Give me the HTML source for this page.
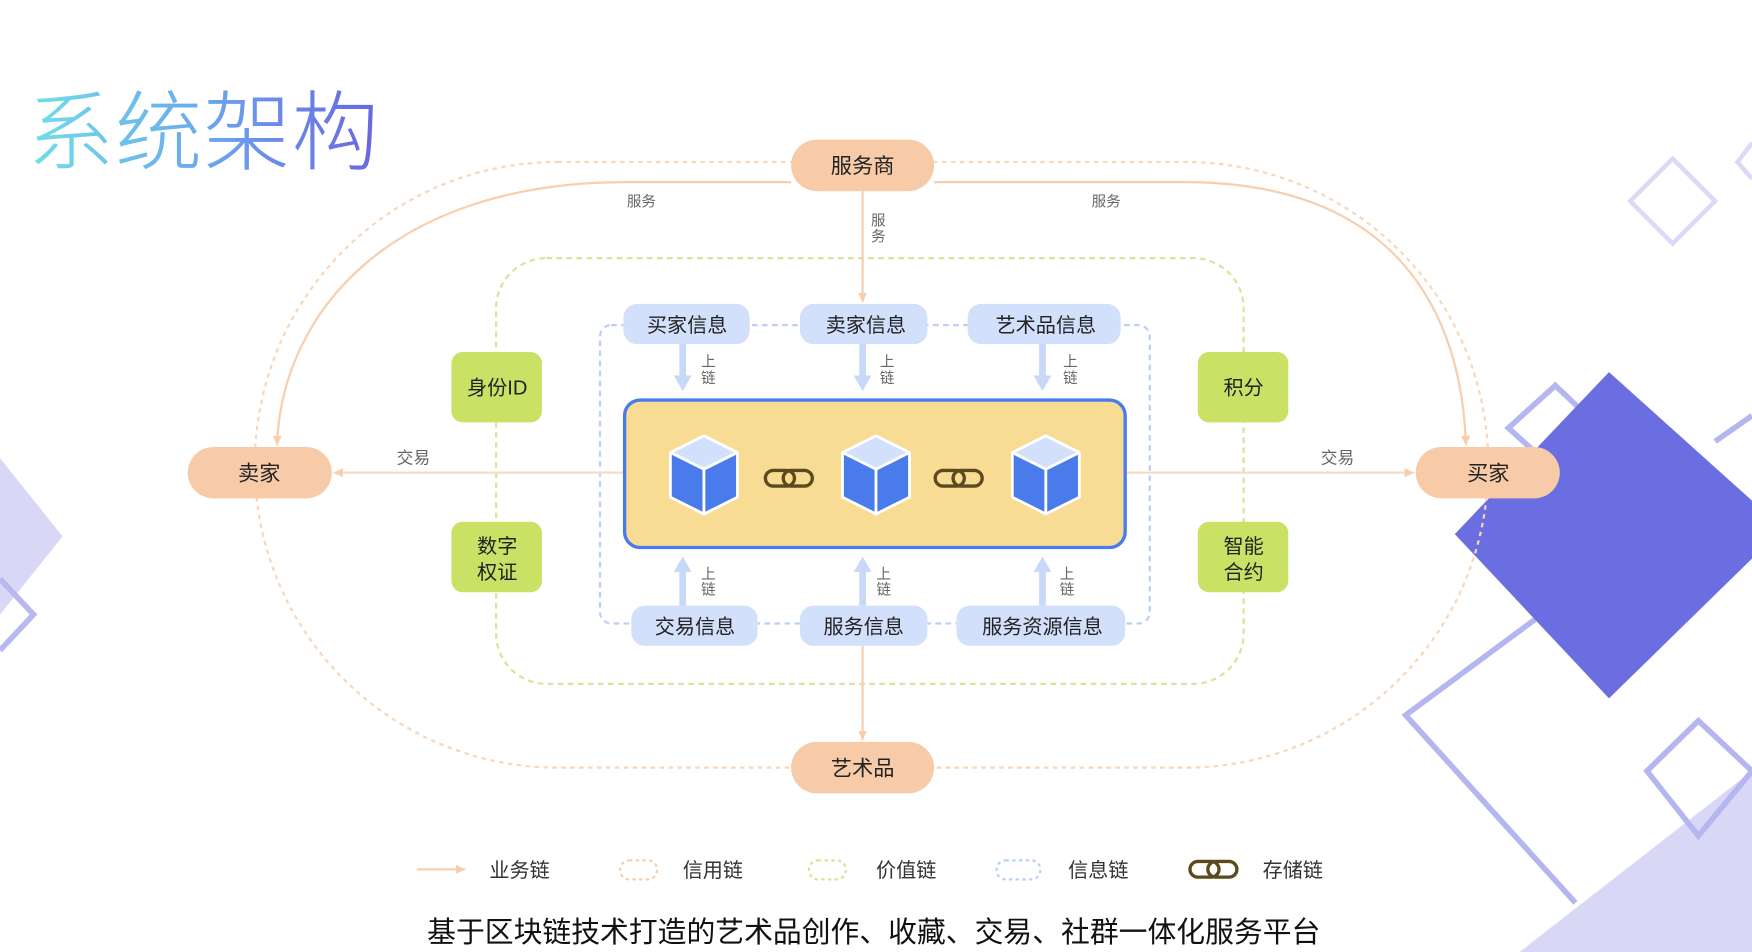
<!DOCTYPE html>
<html><head><meta charset="utf-8"><style>
html,body{margin:0;padding:0;background:#fff;overflow:hidden}
svg{display:block}
text{font-family:"Liberation Sans","Noto Sans CJK SC",sans-serif}
</style></head><body>
<svg width="1752" height="952" viewBox="0 0 1568 852" xmlns="http://www.w3.org/2000/svg">
<defs>
<linearGradient id="tg" x1="0" y1="0" x2="1" y2="0">
<stop offset="0" stop-color="#6fe0e6"/><stop offset="0.5" stop-color="#6aa8ee"/><stop offset="1" stop-color="#6a64e0"/>
</linearGradient>
<marker id="ao" markerWidth="10" markerHeight="10" refX="8" refY="5" orient="auto" markerUnits="userSpaceOnUse"><path d="M0,1 L9,5 L0,9 z" fill="#f8cfae"/></marker>
<marker id="ab" markerWidth="16" markerHeight="16" refX="8" refY="8" orient="auto" markerUnits="userSpaceOnUse"><path d="M0,0 L14,8 L0,16 z" fill="#c8d8f8"/></marker>
<g id="cube">
<polygon points="0,-35 30,-20 0,-5 -30,-20" fill="#d3e0fb" stroke="#fff" stroke-width="2.5" stroke-linejoin="round"/>
<polygon points="-30,-20 0,-5 0,35 -30,20" fill="#4a7beb" stroke="#fff" stroke-width="2.5" stroke-linejoin="round"/>
<polygon points="0,-5 30,-20 30,20 0,35" fill="#4a7beb" stroke="#fff" stroke-width="2.5" stroke-linejoin="round"/>
</g>
<g id="link" fill="none" stroke="#5a4a1e" stroke-width="3">
<rect x="-21" y="-7" width="26" height="14" rx="7"/>
<rect x="-5" y="-7" width="26" height="14" rx="7"/>
</g>
</defs>

<polygon points="0,410 56,480 0,550" fill="#d8d8f6"/>
<polyline points="0,518 30,550 0,582" fill="none" stroke="#b8b8f0" stroke-width="5"/>
<polygon points="1497,142 1535,180 1497,218 1459,180" fill="none" stroke="#dadaf6" stroke-width="4"/>
<polyline points="1568,128 1555,145 1568,160" fill="none" stroke="#dadaf6" stroke-width="4"/>
<polygon points="1392,345 1432,383 1392,421 1350,383" fill="none" stroke="#b4b6ef" stroke-width="5"/>
<polyline points="1400,535 1258,640 1410,808" fill="none" stroke="#b4b6ef" stroke-width="5"/>
<polygon points="1360,852 1568,690 1568,852" fill="#d8d8f6"/>
<polygon points="1520,645 1568,690 1520,748 1474,690" fill="none" stroke="#b4b6ef" stroke-width="5"/>
<polygon points="1440,333 1568,448 1568,500 1440,625 1302,478" fill="#6a6ee0"/>
<polyline points="1535,395 1568,372" fill="none" stroke="#b4b6ef" stroke-width="5"/>

<text x="24" y="146" font-size="78" font-weight="300" fill="url(#tg)" letter-spacing="1">系统架构</text>

<rect x="228" y="145" width="1104" height="542" rx="271" fill="none" stroke="#f8d7ba" stroke-width="2" stroke-dasharray="4,4"/>
<rect x="444" y="231" width="669" height="381" rx="45" fill="none" stroke="#d6e59a" stroke-width="2" stroke-dasharray="5,4"/>
<rect x="537" y="291" width="492" height="267" rx="10" fill="none" stroke="#bcd0f5" stroke-width="2" stroke-dasharray="5,4"/>

<path d="M708,163 L560,163 C350,163 252,280 248,398" fill="none" stroke="#f8cfae" stroke-width="2" marker-end="url(#ao)"/>
<path d="M836,163 L1060,163 C1250,163 1308,280 1312,398" fill="none" stroke="#f8cfae" stroke-width="2" marker-end="url(#ao)"/>
<text x="574" y="185" font-size="13" fill="#666" text-anchor="middle">服务</text>
<text x="990" y="185" font-size="13" fill="#666" text-anchor="middle">服务</text>
<line x1="772" y1="171" x2="772" y2="270" stroke="#f8cfae" stroke-width="2" marker-end="url(#ao)"/>
<text x="786" y="202" font-size="13" fill="#666" text-anchor="middle">服</text>
<text x="786" y="216" font-size="13" fill="#666" text-anchor="middle">务</text>
<line x1="772" y1="578" x2="772" y2="662" stroke="#f8cfae" stroke-width="2" marker-end="url(#ao)"/>
<line x1="558" y1="423" x2="299" y2="423" stroke="#f8dcc4" stroke-width="2" marker-end="url(#ao)"/>
<line x1="1008" y1="423" x2="1265" y2="423" stroke="#f8dcc4" stroke-width="2" marker-end="url(#ao)"/>
<text x="370" y="415" font-size="15" fill="#666" text-anchor="middle">交易</text>
<text x="1197" y="415" font-size="15" fill="#666" text-anchor="middle">交易</text>

<g font-size="19" fill="#222" text-anchor="middle">
<rect x="708" y="125" width="128" height="46" rx="23" fill="#f7cba8"/><text x="772" y="155">服务商</text>
<rect x="708" y="664" width="128" height="46" rx="23" fill="#f7cba8"/><text x="772" y="694">艺术品</text>
<rect x="168" y="400" width="129" height="46" rx="23" fill="#f7cba8"/><text x="232" y="430">卖家</text>
<rect x="1267" y="400" width="129" height="46" rx="23" fill="#f7cba8"/><text x="1332" y="430">买家</text>
</g>

<g font-size="18" fill="#222" text-anchor="middle">
<rect x="404" y="315" width="81" height="63" rx="10" fill="#c9e265"/><text x="445" y="353">身份ID</text>
<rect x="404" y="467" width="81" height="63" rx="10" fill="#c9e265"/><text x="445" y="495">数字</text><text x="445" y="518">权证</text>
<rect x="1072" y="315" width="81" height="63" rx="10" fill="#c9e265"/><text x="1113" y="353">积分</text>
<rect x="1072" y="467" width="81" height="63" rx="10" fill="#c9e265"/><text x="1113" y="495">智能</text><text x="1113" y="518">合约</text>
</g>

<g stroke="#c8d8f8" stroke-width="6">
<line x1="611" y1="308" x2="611" y2="344" marker-end="url(#ab)"/>
<line x1="772" y1="308" x2="772" y2="344" marker-end="url(#ab)"/>
<line x1="933" y1="308" x2="933" y2="344" marker-end="url(#ab)"/>
<line x1="611" y1="542" x2="611" y2="504" marker-end="url(#ab)"/>
<line x1="772" y1="542" x2="772" y2="504" marker-end="url(#ab)"/>
<line x1="933" y1="542" x2="933" y2="504" marker-end="url(#ab)"/>
</g>
<g font-size="13" fill="#666" text-anchor="middle">
<text x="634" y="328">上</text><text x="634" y="343">链</text>
<text x="794" y="328">上</text><text x="794" y="343">链</text>
<text x="958" y="328">上</text><text x="958" y="343">链</text>
<text x="634" y="518">上</text><text x="634" y="532">链</text>
<text x="791" y="518">上</text><text x="791" y="532">链</text>
<text x="955" y="518">上</text><text x="955" y="532">链</text>
</g>

<g font-size="18" fill="#222" text-anchor="middle">
<rect x="558" y="272" width="113" height="36" rx="12" fill="#d3e0fb"/><text x="615" y="297">买家信息</text>
<rect x="716" y="272" width="114" height="36" rx="12" fill="#d3e0fb"/><text x="775" y="297">卖家信息</text>
<rect x="866" y="272" width="137" height="36" rx="12" fill="#d3e0fb"/><text x="936" y="297">艺术品信息</text>
<rect x="565" y="542" width="113" height="36" rx="12" fill="#d3e0fb"/><text x="622" y="567">交易信息</text>
<rect x="716" y="542" width="114" height="36" rx="12" fill="#d3e0fb"/><text x="773" y="567">服务信息</text>
<rect x="856" y="542" width="151" height="36" rx="12" fill="#d3e0fb"/><text x="933" y="567">服务资源信息</text>
</g>

<rect x="559" y="358" width="448" height="132" rx="14" fill="#f8dc94" stroke="#4a7beb" stroke-width="3"/>
<use href="#cube" x="630" y="425"/>
<use href="#cube" x="784" y="425"/>
<use href="#cube" x="936" y="425"/>
<use href="#link" x="706" y="428"/>
<use href="#link" x="858" y="428"/>

<line x1="373" y1="778" x2="416" y2="778" stroke="#f8cfae" stroke-width="2" marker-end="url(#ao)"/>
<rect x="555" y="770" width="33" height="17" rx="8" fill="none" stroke="#f8cfae" stroke-width="2" stroke-dasharray="3,3"/>
<rect x="724" y="770" width="33" height="17" rx="8" fill="none" stroke="#d6e59a" stroke-width="2" stroke-dasharray="3,3"/>
<rect x="892" y="770" width="39" height="17" rx="8" fill="none" stroke="#bcd0f5" stroke-width="2" stroke-dasharray="3,3"/>
<use href="#link" x="1086" y="778"/>
<g font-size="18" fill="#333">
<text x="438" y="785">业务链</text>
<text x="611" y="785">信用链</text>
<text x="784" y="785">价值链</text>
<text x="956" y="785">信息链</text>
<text x="1130" y="785">存储链</text>
</g>
<text x="782" y="843" font-size="25.8" fill="#111" text-anchor="middle">基于区块链技术打造的艺术品创作、收藏、交易、社群一体化服务平台</text>
</svg>
</body></html>
